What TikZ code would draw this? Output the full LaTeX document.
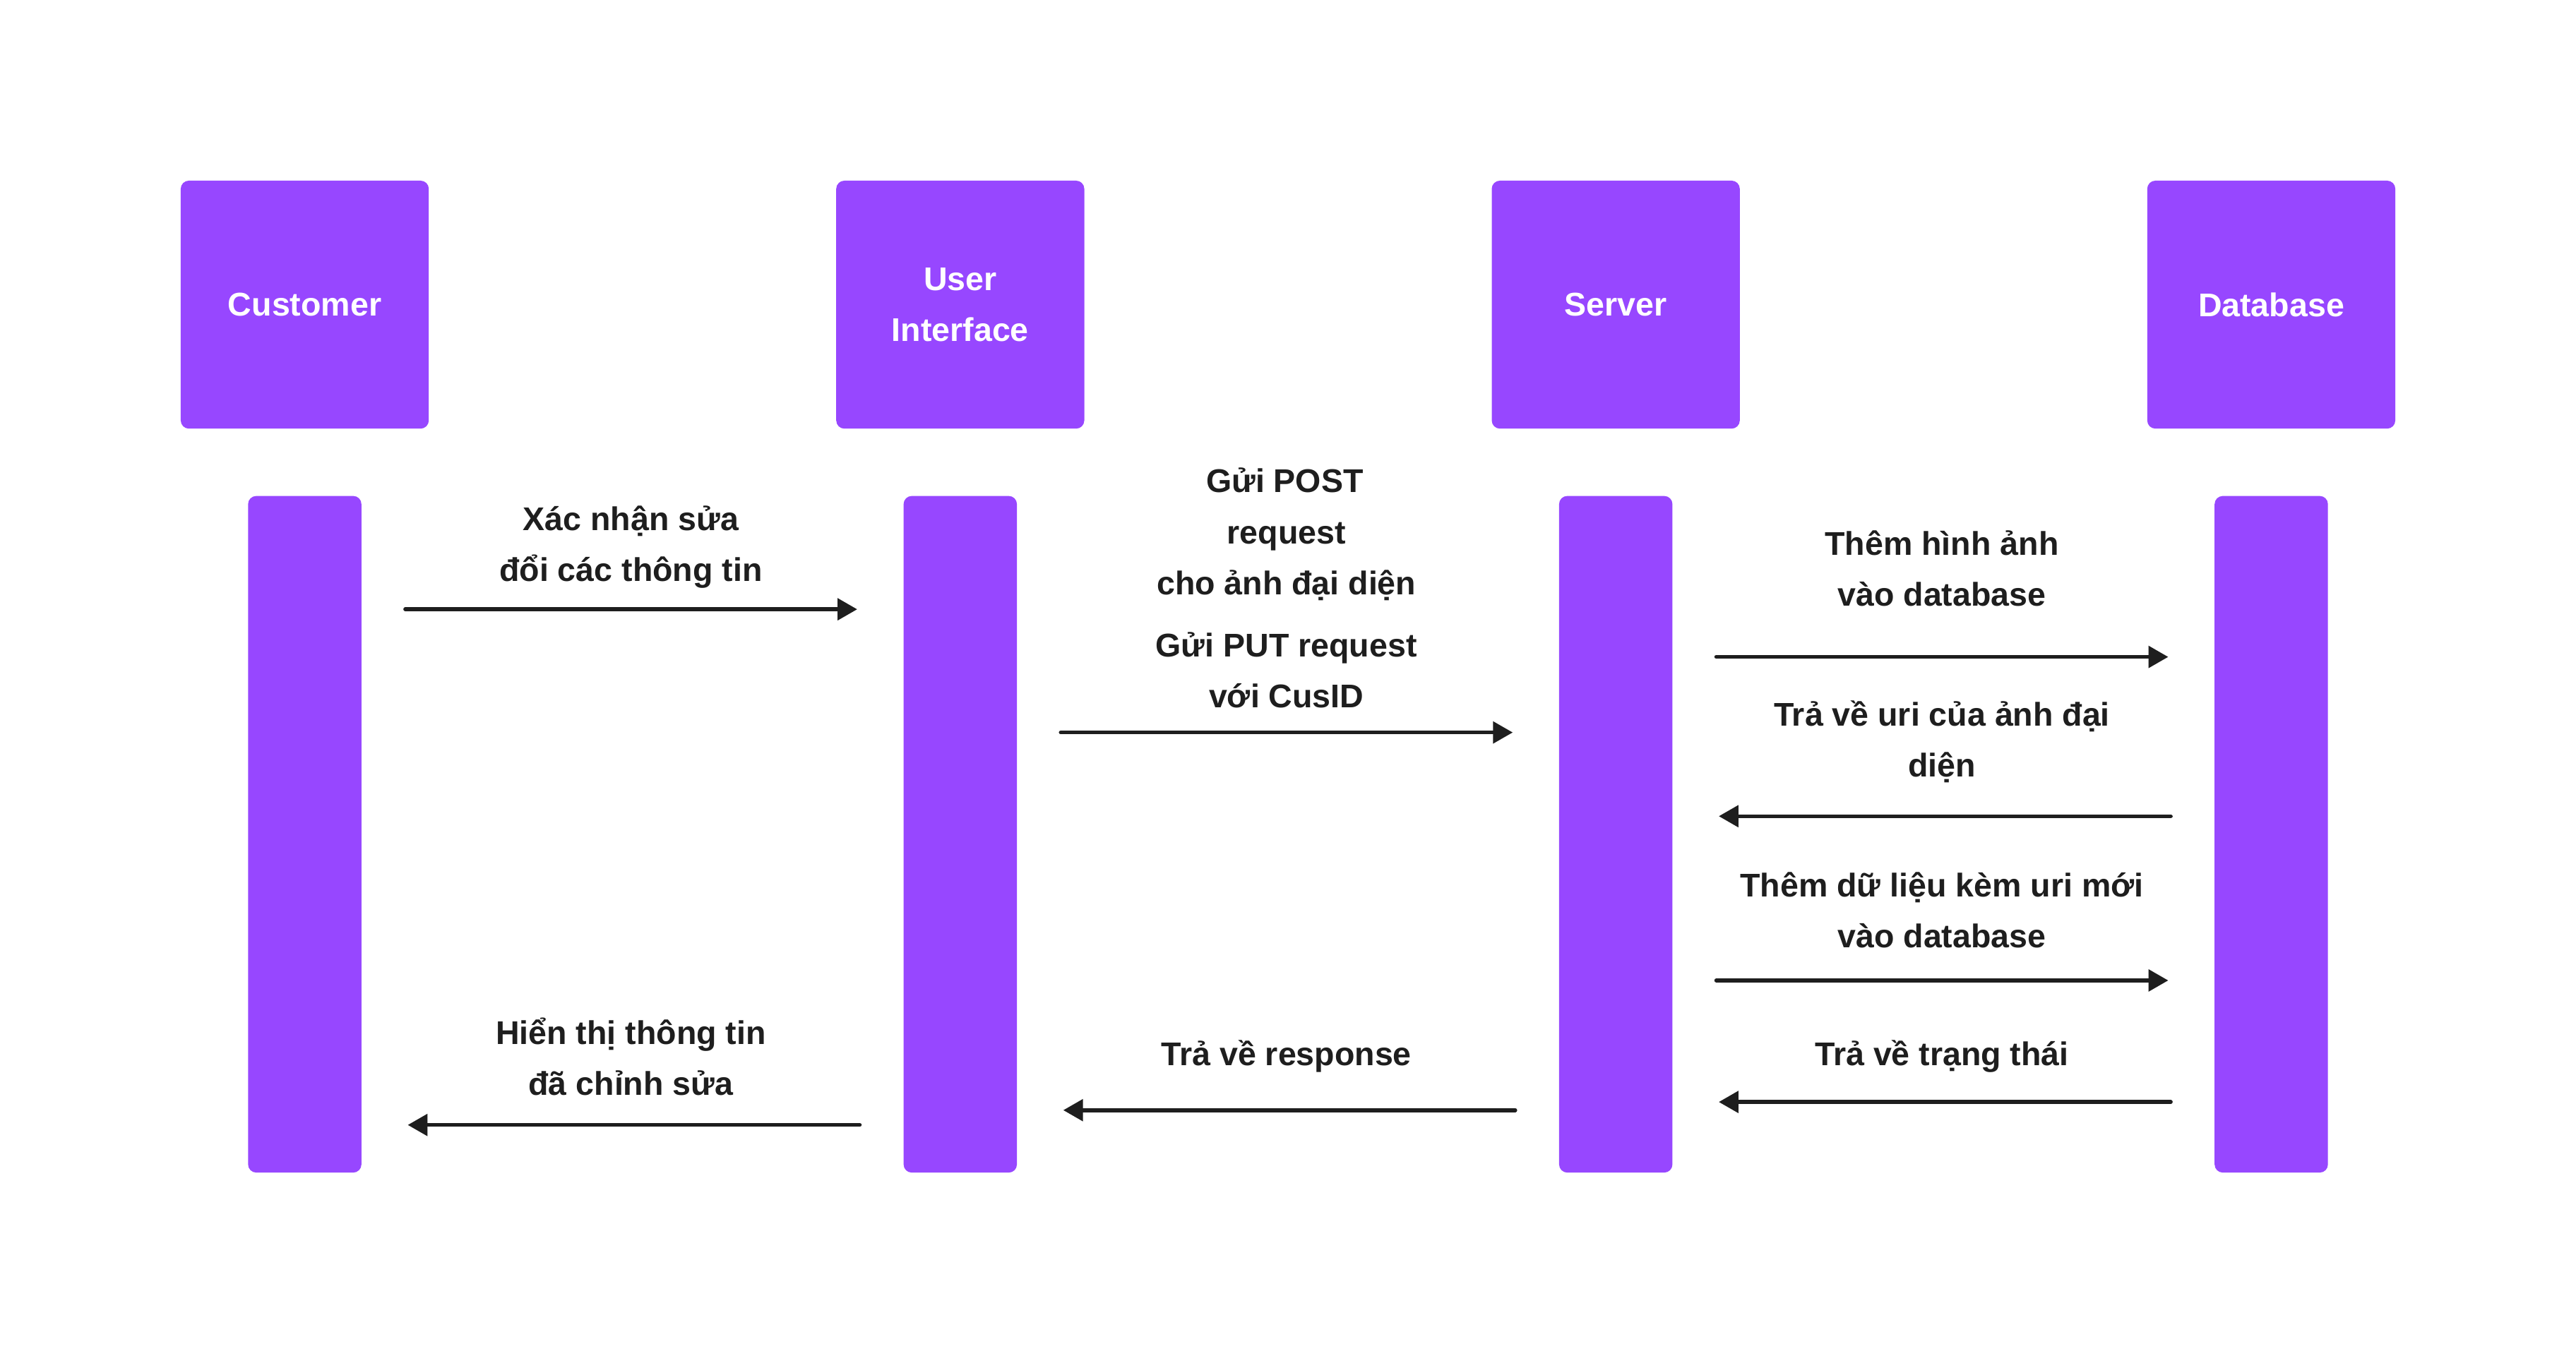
\documentclass[tikz,border=0pt]{standalone}
\usepackage{fontspec}
\setmainfont{Liberation Sans}
\usetikzlibrary{arrows.meta}
\definecolor{lane}{HTML}{9747FF}
\definecolor{ink}{HTML}{1E1E1E}
\tikzset{
  header/.style={fill=lane, rounded corners=5pt, minimum width=151pt, minimum height=151pt,
    inner sep=0pt, text=white, align=center, font=\fontsize{20}{31}\selectfont\bfseries},
  lifebar/.style={fill=lane, rounded corners=5pt, minimum width=69pt, minimum height=412pt, inner sep=0pt},
  msgtext/.style={anchor=base, inner sep=0pt, text=ink, font=\fontsize{20}{24}\selectfont\bfseries},
  msg/.style={draw=ink, line width=2.4pt, line cap=round, -{Triangle[length=12pt,width=13pt]},
    shorten <=26.5pt, shorten >=28pt}
}
\begin{document}
\begin{tikzpicture}[x=1pt,y=-1pt]
\useasboundingbox[fill=white] (0,0) rectangle (1568,825.3);
% headers
\node[header] (hc) at (185.5,185.5) {Customer};
\node[header] (hu) at (584.5,185.5) {User\\Interface};
\node[header] (hs) at (983.5,185.5) {Server};
\node[header] (hd) at (1382.5,185.5) {Database};
% lifelines
\node[lifebar] (bc) at (185.5,508) {};
\node[lifebar] (bu) at (584.5,508) {};
\node[lifebar] (bs) at (983.5,508) {};
\node[lifebar] (bd) at (1382.5,508) {};
% message rows
\coordinate (y1) at (0,371);
\coordinate (y2) at (0,446);
\coordinate (y3) at (0,400);
\coordinate (y4) at (0,497);
\coordinate (y5) at (0,597);
\coordinate (y6) at (0,671);
\coordinate (y7) at (0,676);
\coordinate (y8) at (0,685);
% arrows
\draw[msg] (bc.east |- y1) -- (bu.west |- y1);
\draw[msg] (bu.east |- y2) -- (bs.west |- y2);
\draw[msg] (bs.east |- y3) -- (bd.west |- y3);
\draw[msg] (bd.west |- y4) -- (bs.east |- y4);
\draw[msg] (bs.east |- y5) -- (bd.west |- y5);
\draw[msg] (bd.west |- y6) -- (bs.east |- y6);
\draw[msg] (bs.west |- y7) -- (bu.east |- y7);
\draw[msg] (bu.west |- y8) -- (bc.east |- y8);
% labels
\node[msgtext] (t1a) at (384,323) {Xác nhận sửa};
\node[msgtext] (t1b) at (384,354) {đổi các thông tin};
\node[msgtext] (t2a) at (782,300) {Gửi POST};
\node[msgtext] (t2b) at (783,331) {request};
\node[msgtext] (t2c) at (783,362) {cho ảnh đại diện};
\node[msgtext] (t2d) at (783,400) {Gửi PUT request};
\node[msgtext] (t2e) at (783,431) {với CusID};
\node[msgtext] (t3a) at (1182,338) {Thêm hình ảnh};
\node[msgtext] (t3b) at (1182,369) {vào database};
\node[msgtext] (t4a) at (1182,442) {Trả về uri của ảnh đại};
\node[msgtext] (t4b) at (1182,473) {diện};
\node[msgtext] (t5a) at (1182,546) {Thêm dữ liệu kèm uri mới};
\node[msgtext] (t5b) at (1182,577) {vào database};
\node[msgtext] (t6a) at (1182,649) {Trả về trạng thái};
\node[msgtext] (t7a) at (783,649) {Trả về response};
\node[msgtext] (t8a) at (384,636) {Hiển thị thông tin};
\node[msgtext] (t8b) at (384,667) {đã chỉnh sửa};
\end{tikzpicture}
\end{document}
